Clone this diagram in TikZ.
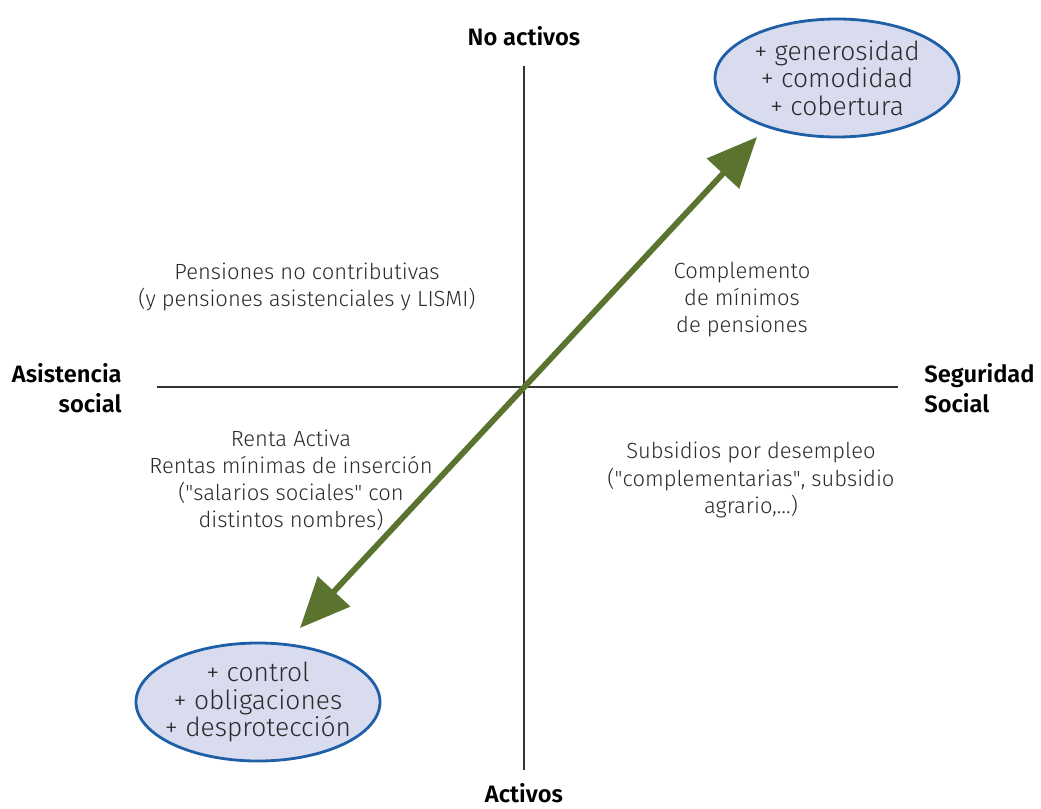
\documentclass[tikz,border=0pt]{standalone}
\usepackage{fontspec}
\setmainfont{Fira Sans}[UprightFont=* Light, BoldFont=* SemiBold]
\usepackage{tikz}
\usetikzlibrary{arrows.meta}
\usetikzlibrary{shapes}
\usetikzlibrary{calc}

\definecolor{szoveg}{HTML}{2B2B2B}
\definecolor{keret}{HTML}{1F5FA8}
\definecolor{kitoltes}{HTML}{D9DCEE}
\definecolor{nyil}{HTML}{5A7430}

\begin{document}
\begin{tikzpicture}[%
x=0.2mm, y=-0.2mm,
tengely/.style={draw=black!80, line width=.6pt},
cimke/.style={font=\bfseries\fontsize{13.5}{17}\selectfont, text=black, inner sep=0pt},
mezo/.style={font=\fontsize{12.5}{15.4}\selectfont, text=szoveg, align=center, inner sep=0pt},
buborek/.style={ellipse, draw=keret, line width=1.6pt, fill=kitoltes,
  minimum width=48.8mm, minimum height=23.6mm, inner sep=-3mm, align=center,
  font=\fontsize{15}{15.6}\selectfont, text=szoveg},
irany/.style={draw=nyil, line width=3.3pt,
  {Triangle[length=10mm,width=8.6mm]}-{Triangle[length=10mm,width=8.6mm]}},
]

\useasboundingbox (0,0) rectangle (1041,808);

\pgfmathsetmacro{\kx}{524}
\pgfmathsetmacro{\ky}{387}

\coordinate(origo) at (\kx,\ky);

% tengelyek
\coordinate(fent)  at (\kx,66);
\coordinate(lent)  at (\kx,770);
\coordinate(bal)   at (157,\ky);
\coordinate(jobb)  at (898,\ky);
\draw[tengely] (fent)--(lent);
\draw[tengely] (bal)--(jobb);

\node[cimke](nemaktiv) at (\kx,36){No activos};
\node[cimke](aktiv) at (\kx,793){Activos};
\node[cimke, align=right, anchor=east](asist) at (122,388){Asistencia\\social};
\node[cimke, align=left, anchor=west](segur) at (924,388){Seguridad\\Social};

% negyedek
\node[mezo](pnc) at (307,287){Pensiones no contributivas\\(y pensiones asistenciales y LISMI)};
\node[mezo](compl) at (742,300){Complemento\\de mínimos\\de pensiones};
\node[mezo](renta) at (291,480){Renta Activa\\Rentas mínimas de inserción\\(\textquotedbl salarios sociales\textquotedbl{} con\\distintos nombres)};
\node[mezo](subs) at (751,480){Subsidios por desempleo\\(\textquotedbl complementarias\textquotedbl, subsidio\\agrario,\dots)};

% buborekok
\node[buborek](gen) at (837,78){+ generosidad\\+ comodidad\\+ cobertura};
\node[buborek](contr) at (258,702){+ control\\+ obligaciones\\+ desprotección};

% nyil
\coordinate(nyil0) at (300,628);
\coordinate(nyil+) at (757,137);
\draw[irany] (nyil0)--(nyil+);

\end{tikzpicture}
\end{document}
